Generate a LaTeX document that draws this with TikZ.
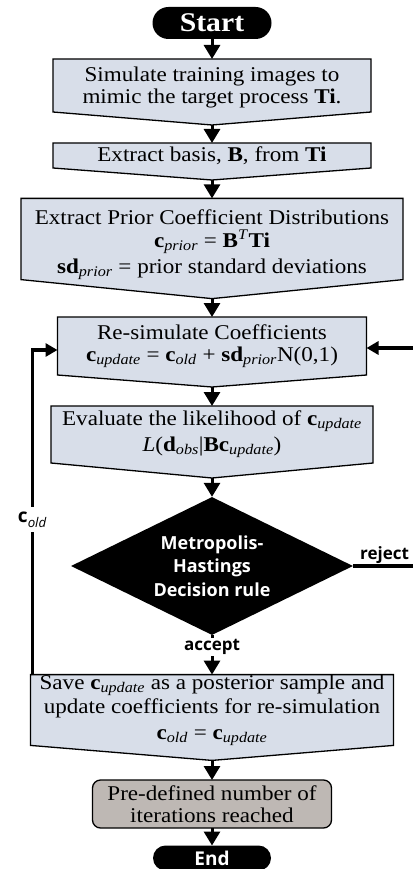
\documentclass[tikz,border=0pt]{standalone}
\usepackage{fontspec}
\setmainfont{Liberation Serif}[FakeStretch=1.1]
\newfontfamily\sansb{Open Sans}
\usetikzlibrary{arrows.meta,shapes.geometric,backgrounds,calc}
\definecolor{boxblue}{RGB}{216,222,233}
\definecolor{boxgray}{RGB}{190,184,180}
\tikzset{
 txt/.style={rectangle, inner sep=0pt, outer sep=0pt, align=center, font=\fontsize{21}{22}\selectfont},
 penta/.style={draw=black, line width=1.3pt, fill=boxblue, line join=miter},
 arr/.style={line width=3pt, -{Triangle[width=16pt,length=14pt]}},
 fb/.style={line width=3.5pt, -{Triangle[width=13pt,length=12pt]}},
 term/.style={fill=black, text=white, inner sep=0pt, outer sep=0pt},
 lbl/.style={font=\sansb\bfseries\fontsize{17}{17}\selectfont, inner sep=1pt}
}
\newcommand\pentadraw[2]{%
  \draw[penta] (#1.north west) -- (#1.north east) -- (#1.south east) -- ([yshift=-#2]#1.south) -- (#1.south west) -- cycle;
  \coordinate (#1t) at ([yshift=-#2]#1.south);}
\begin{document}
\begin{tikzpicture}[x=1pt,y=-1pt]
\useasboundingbox (0,0) rectangle (412,869);
\node[term, rounded corners=16pt, minimum width=119pt, minimum height=32pt, font=\bfseries\fontsize{27}{27}\selectfont] (start) at (212,23) {Start};
\node[txt, minimum width=318pt, minimum height=53pt] (b1) at (212,85.5) {\rule{0pt}{19pt}Simulate training images to\\mimic the target process \textbf{Ti}.};
\node[txt, minimum width=318pt, minimum height=25pt] (b2) at (212,155.5) {\raisebox{-3pt}{Extract basis, \textbf{B}, from \textbf{Ti}}};
\node[txt, minimum width=382pt, minimum height=78pt] (b3) at (212,239) {\rule{0pt}{26pt}Extract Prior Coefficient Distributions\\[1pt] \textbf{c}\textsubscript{\textit{prior}} = \textbf{B}\textsuperscript{\textit{T}}\textbf{Ti}\\[4pt] \textbf{sd}\textsubscript{\textit{prior}} = prior standard deviations};
\node[txt, minimum width=309pt, minimum height=58pt] (b4) at (212,346) {Re-simulate Coefficients\\ \textbf{c}\textsubscript{\textit{update}} = \textbf{c}\textsubscript{\textit{old}} + \textbf{sd}\textsubscript{\textit{prior}}N(0,1)};
\node[txt, minimum width=322pt, minimum height=57pt] (b5) at (212,434.5) {Evaluate the likelihood of \textbf{c}\textsubscript{\textit{update}}\\[4pt] \textit{L}(\textbf{d}\textsubscript{\textit{obs}}|\textbf{Bc}\textsubscript{\textit{update}})};
\node[diamond, shape aspect=2, fill=black, text=white, inner sep=0pt, minimum width=282pt, minimum height=138pt, align=center, font=\sansb\bfseries\fontsize{18}{23.5}\selectfont] (dec) at (212,566) {Metropolis-\\Hastings\\Decision rule};
\node[txt, minimum width=363pt, minimum height=66pt] (b7) at (212,710) {Save \textbf{c}\textsubscript{\textit{update}} as a posterior sample and\\[2pt] update coefficients for re-simulation\\[4pt] \textbf{c}\textsubscript{\textit{old}} = \textbf{c}\textsubscript{\textit{update}}};
\node[txt, draw, line width=1.3pt, fill=boxgray, rounded corners=8pt, minimum width=239pt, minimum height=48pt] (b6) at (212,804) {Pre-defined number of\\iterations reached};
\node[term, rounded corners=12.5pt, minimum width=118pt, minimum height=25pt, font=\sansb\bfseries\fontsize{19}{19}\selectfont] (end) at (212,858) {End};
\begin{scope}[on background layer]
\pentadraw{b1}{13pt}
\pentadraw{b2}{12pt}
\pentadraw{b3}{19pt}
\pentadraw{b4}{12pt}
\pentadraw{b5}{15pt}
\pentadraw{b7}{15pt}
\end{scope}
\draw[arr] (start) -- (b1);
\draw[arr] (b1t) -- (b2);
\draw[arr] (b2t) -- (b3);
\draw[arr] (b3t) -- (b4);
\draw[arr] (b4t) -- (b5);
\draw[arr] (b5t) -- (dec);
\draw[arr] (dec) -- node[lbl, fill=white, pos=0.3] {accept} (b7);
\draw[arr] (b7t) -- (b6);
\draw[arr] (b6) -- (end);
\draw[fb] ([xshift=2pt]b7.north west) |- node[pos=0.2385, fill=white, inner sep=1pt, minimum height=25pt, font=\sansb\fontsize{19}{19}\selectfont] {\textbf{c}\textsubscript{\textit{old}}} ([yshift=-4pt]b4.west);
\coordinate (rj) at (416,566);
\draw[fb] (dec.east) -- node[lbl, above, pos=0.5] {reject} (rj) |- ([yshift=-2pt]b4.east);
\end{tikzpicture}
\end{document}
